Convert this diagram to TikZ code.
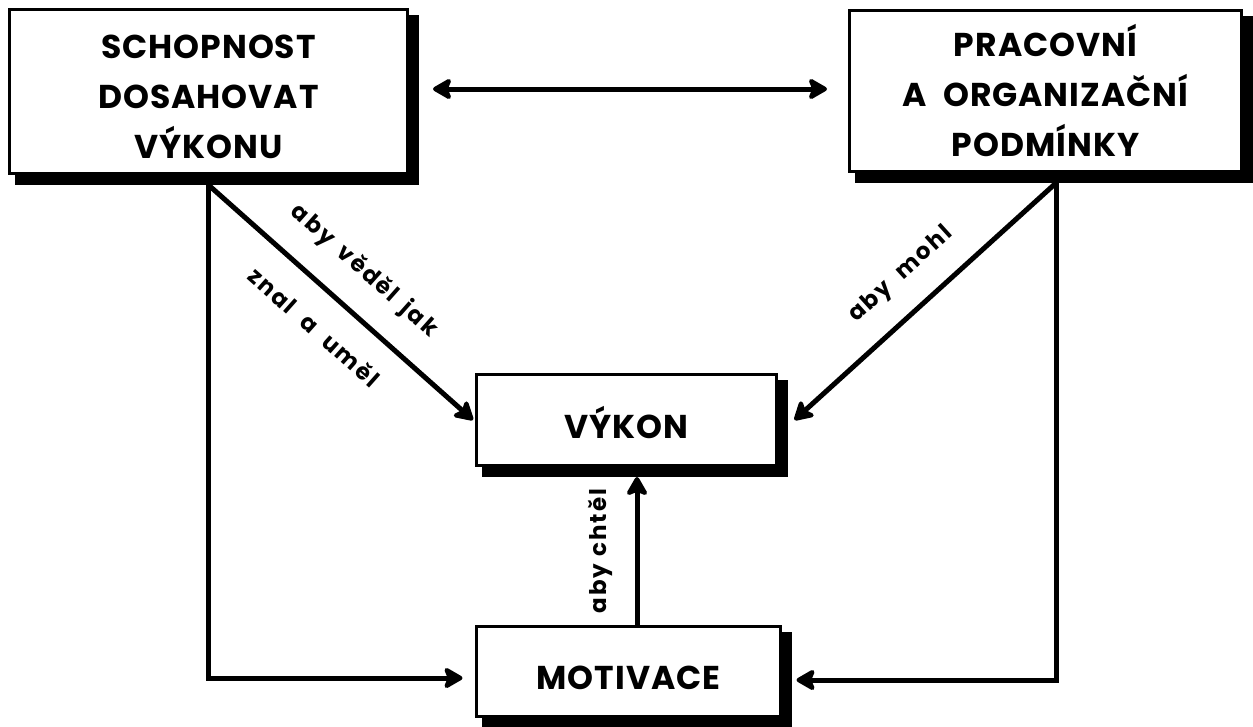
\documentclass[tikz,border=0pt]{standalone}
\usepackage{fontspec}
\setmainfont{Poppins}[LetterSpace=3]
\newfontfamily\lblfont{Poppins}[LetterSpace=9]
\usetikzlibrary{arrows.meta,calc,backgrounds}
\begin{document}
\begin{tikzpicture}[x=1pt,y=-1pt,
  >={Stealth[length=22pt,width=25pt,inset=5pt,round]},
  box/.style={draw, line width=3pt, fill=white, inner sep=0pt, align=center,
    font=\bfseries\fontsize{33}{50}\selectfont},
  conn/.style={line width=5pt, ->},
  lbl/.style={font=\lblfont\bfseries\fontsize{23}{25}\selectfont, inner sep=0pt},
]
\useasboundingbox (0,0) rectangle (1253,726);

% boxes
\node[box, minimum width=398pt, minimum height=164pt] (s1) at (208.5,91.5)
  {\rule{0pt}{34pt}SCHOPNOST\\DOSAHOVAT\\VÝKONU};
\node[box, minimum width=392pt, minimum height=161pt] (s2) at (1045.5,91)
  {PRACOVNÍ\\A\ \ ORGANIZAČNÍ\\PODMÍNKY};
\node[box, minimum width=300pt, minimum height=91pt, text height=36pt, text depth=0pt]
  (vy) at (626.5,420) {VÝKON};
\node[box, minimum width=304pt, minimum height=90pt, text height=36pt, text depth=0pt]
  (mo) at (628.5,671.5) {MOTIVACE};

% drop shadows behind the boxes
\begin{scope}[on background layer]
  \foreach \b in {s1,s2,vy,mo}
    \fill ([shift={(7,7)}]\b.north west) rectangle ([shift={(10,10)}]\b.south east);
\end{scope}

% branching points under the top boxes
\coordinate (sL) at ([yshift=-10pt]s1.south);
\coordinate (sR) at ([xshift=10.5pt,yshift=-10pt]s2.south);
\coordinate (up) at (637,0);

% connectors
\draw[conn, <->] ([xshift=24pt,yshift=2.5pt]s1.east) -- ([xshift=-21pt,yshift=2pt]s2.west);
\draw[conn] (sL) -- ([xshift=-2pt]vy.west)
  node[lbl, pos=0.49, sloped, above=24pt] {aby\hspace{0.2em} věděl\hspace{0.2em} jak}
  node[lbl, pos=0.49, sloped, below=24pt] {znal\ \ a\ \ uměl};
\draw[conn] (sR) -- ([xshift=16.5pt]vy.east)
  node[lbl, pos=0.5, sloped, above=22pt] {aby\ \ mohl};
\draw[conn] (sL) |- ([xshift=-12.5pt,yshift=-6.5pt]mo.west);
\draw[conn] (sR) |- ([xshift=14.5pt,yshift=-8.5pt]mo.east);
\draw[conn] (mo.north -| up) -- ([yshift=-10pt]vy.south -| up)
  node[lbl, midway, sloped, above=22pt] {aby chtěl};
\end{tikzpicture}
\end{document}
